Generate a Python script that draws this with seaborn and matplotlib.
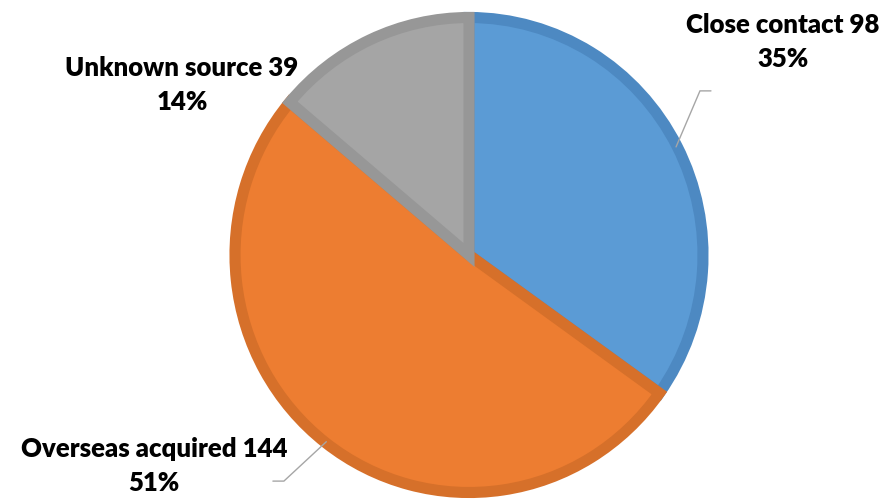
import numpy as np
import matplotlib
matplotlib.use("Agg")
import matplotlib.pyplot as plt
import seaborn as sns

# case source breakdown
sources = ["Close contact", "Overseas acquired", "Unknown source"]
counts = [98, 144, 39]
pcts = ["35%", "51%", "14%"]

fills = ["#5B9BD5", "#ED7D31", "#A5A5A5"]
edges = ["#4D89C2", "#D6702A", "#979797"]

sns.set_theme(style="white")
plt.rcParams["font.family"] = ["Lato", "DejaVu Sans"]

W, H = 888, 499
fig = plt.figure(figsize=(W / 100, H / 100), dpi=100)
# pie centred at (469, 255) px, slightly taller than wide like the source
cx, cy, rx, ry = 469, 255, 234, 237.5
ax = fig.add_axes([(cx - rx) / W, (H - cy - ry) / H, 2 * rx / W, 2 * ry / H])

wedges, _ = ax.pie(counts, colors=fills, startangle=90, counterclock=False,
                   radius=1, wedgeprops=dict(linewidth=8))
for w, ec in zip(wedges, edges):
    w.set_edgecolor(ec)
    w.set_clip_path(w)  # keep the darker border on the inside of each slice

ax.set_xlim(-1, 1)
ax.set_ylim(-1, 1)
ax.set_aspect("auto")
ax.axis("off")

# label blocks (data coords)
label_pos = [(1.342, 0.895), (-1.346, -0.888), (-1.226, 0.714)]
for name, n, p, (x, y) in zip(sources, counts, pcts, label_pos):
    ax.text(x, y, f"{name} {n}\n{p}", ha="center", va="center",
            fontsize=18.5, fontweight="heavy", color="black",
            linespacing=1.5, clip_on=False)

# leader lines for the first two slices
elbows = {0: [(0.987, 0.691), (1.034, 0.691)],
          1: [(-0.791, -0.952), (-0.838, -0.952)]}
for i, pts in elbows.items():
    w = wedges[i]
    mid = np.deg2rad((w.theta1 + w.theta2) / 2)
    start = (0.995 * np.cos(mid), 0.995 * np.sin(mid))
    xs = [start[0]] + [p[0] for p in pts]
    ys = [start[1]] + [p[1] for p in pts]
    ax.plot(xs, ys, color="#A6A6A6", linewidth=1.0, clip_on=False,
            solid_joinstyle="miter")

fig.savefig("out.png", dpi=100)
